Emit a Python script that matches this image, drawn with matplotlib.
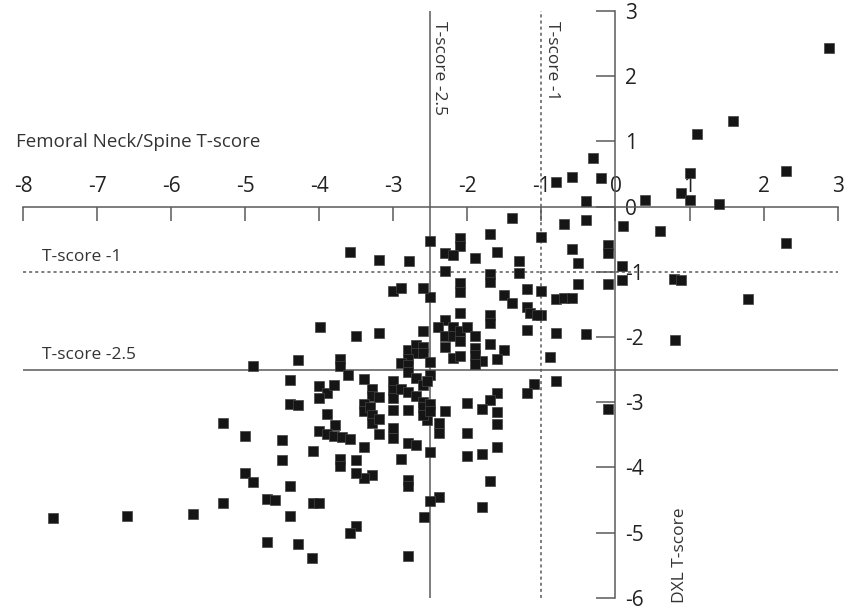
import matplotlib
matplotlib.use("Agg")
import matplotlib.pyplot as plt

plt.rcParams['font.family'] = ['Open Sans', 'DejaVu Sans']
plt.rcParams['axes.unicode_minus'] = False

# Femoral neck / spine T-score (x) vs DXL T-score (y)
fn_t = [2.89, 1.59, 1.10, 1.00, 2.30, -0.20, 0.40, 0.89, 1.00, 1.40,
        0.10, 0.60, 2.30, -0.10, -0.10, 0.09, 0.09, -0.10, 0.79, 0.89,
        1.79, 0.80, -0.10, -0.31, -0.80, -0.59, -0.40, -0.70, -0.40, -1.00,
        -0.59, -0.50, -0.50, -1.00, -0.80, -0.70, -0.59, -1.00, -0.80, -0.40,
        -0.89, -0.80, -1.40, -1.70, -1.60, -1.30, -1.70, -1.70, -1.30, -1.20,
        -1.51, -1.40, -1.20, -1.15, -1.06, -1.70, -1.70, -1.20, -1.70, -1.50,
        -1.60, -1.80, -1.10, -1.20, -1.60, -1.70, -1.80, -1.60, -1.60, -1.60,
        -1.80, -1.70, -1.80, -2.10, -2.10, -2.30, -2.20, -1.90, -2.30, -2.10,
        -2.10, -2.10, -2.30, -2.40, -2.20, -2.30, -2.20, -2.10, -2.10, -2.00,
        -1.90, -2.30, -2.20, -2.10, -1.90, -1.90, -1.90, -2.00, -2.30, -2.39,
        -2.39, -2.00, -2.00, -2.39, -2.50, -2.50, -2.59, -2.55, -2.50, -2.79,
        -2.50, -2.60, -2.60, -2.80, -2.69, -2.60, -2.69, -2.80, -2.60, -2.50,
        -2.90, -2.80, -2.80, -2.50, -2.69, -2.60, -2.55, -3.00, -3.00, -3.00,
        -2.90, -2.80, -2.69, -2.60, -3.00, -2.80, -2.60, -2.60, -2.50, -2.50,
        -3.00, -3.00, -2.80, -2.69, -2.90, -2.80, -2.80, -2.80, -3.00, -2.90,
        -3.19, -3.19, -3.40, -3.29, -3.29, -3.19, -3.40, -3.40, -3.32, -3.29,
        -3.29, -3.19, -3.19, -3.40, -3.29, -3.40, -3.50, -3.50, -3.50, -3.50,
        -3.59, -3.59, -3.99, -3.72, -3.72, -3.61, -4.29, -4.00, -3.90, -3.80,
        -4.00, -3.89, -3.79, -4.00, -3.90, -3.80, -3.70, -3.59, -3.72, -3.72,
        -4.09, -4.09, -4.00, -4.10, -4.40, -4.40, -4.29, -4.50, -4.50, -4.40,
        -4.40, -4.29, -4.71, -4.71, -4.60, -5.00, -4.89, -5.00, -5.30, -5.30,
        -5.70, -6.60, -7.59, -4.89]
dxl_t = [2.44, 1.32, 1.12, 0.51, 0.54, 0.44, 0.10, 0.21, 0.10, 0.04,
         -0.29, -0.37, -0.56, -0.59, -0.71, -0.91, -1.12, -1.19, -1.11, -1.12,
         -1.42, -2.05, -3.10, 0.75, 0.38, 0.45, 0.08, -0.27, -0.20, -0.46,
         -0.65, -0.87, -1.19, -1.29, -1.42, -1.40, -1.40, -1.66, -1.93, -1.95,
         -2.31, -2.67, -0.18, -0.42, -0.69, -0.83, -1.03, -1.15, -1.01, -1.26,
         -1.36, -1.48, -1.54, -1.63, -1.66, -1.66, -1.78, -1.89, -2.11, -2.20,
         -2.33, -2.37, -2.72, -2.85, -2.86, -2.96, -3.11, -3.15, -3.34, -3.69,
         -3.80, -4.21, -4.60, -0.48, -0.60, -0.71, -0.74, -0.78, -0.99, -1.17,
         -1.31, -1.63, -1.74, -1.84, -1.84, -1.98, -1.99, -1.90, -2.06, -1.84,
         -1.98, -2.15, -2.32, -2.29, -2.16, -2.27, -2.41, -3.01, -3.14, -3.32,
         -3.47, -3.47, -3.82, -4.45, -4.52, -3.77, -4.76, -3.27, -0.53, -0.84,
         -1.39, -1.24, -1.90, -2.20, -2.12, -2.15, -2.25, -2.33, -2.25, -2.38,
         -2.39, -2.43, -2.53, -2.58, -2.63, -2.73, -2.67, -2.68, -2.81, -2.94,
         -2.79, -2.84, -2.91, -2.99, -3.12, -3.12, -3.07, -3.19, -3.02, -3.14,
         -3.40, -3.54, -3.63, -3.65, -3.87, -4.19, -4.28, -5.35, -1.29, -1.24,
         -0.81, -1.93, -2.65, -2.79, -2.90, -2.92, -3.02, -3.14, -3.07, -3.19,
         -3.32, -3.25, -3.48, -3.69, -4.12, -4.16, -4.09, -3.89, -1.99, -4.90,
         -5.01, -0.69, -1.85, -2.33, -2.45, -2.58, -2.35, -2.75, -2.86, -2.73,
         -2.94, -3.18, -3.35, -3.44, -3.49, -3.52, -3.53, -3.56, -3.87, -3.98,
         -3.75, -4.54, -4.54, -5.39, -2.66, -3.02, -3.04, -3.58, -3.88, -4.28,
         -4.75, -5.17, -5.15, -4.48, -4.50, -4.09, -4.22, -3.52, -3.32, -4.54,
         -4.72, -4.75, -4.77, -2.44]

x_ticks = [-8, -7, -6, -5, -4, -3, -2, -1, 0, 1, 2, 3]
y_ticks = [3, 2, 1, 0, -1, -2, -3, -4, -5, -6]
cutoffs = [-1, -2.5]

fig = plt.figure(figsize=(8.54, 6.14), dpi=100)
ax = fig.add_axes([0, 0, 1, 1])
ax.set_xlim(-8.312, 3.221)
ax.set_ylim(-6.247, 3.170)

axis_col = "#5a5a5a"
for side in ["left", "bottom"]:
    ax.spines[side].set_visible(False)
ax.spines["top"].set_position(("data", 0))
ax.spines["top"].set_bounds(-8, 3)
ax.spines["right"].set_position(("data", 0))
ax.spines["right"].set_bounds(-6, 3)
for side in ["top", "right"]:
    ax.spines[side].set_color(axis_col)
    ax.spines[side].set_linewidth(1.1)

ax.xaxis.set_ticks_position("top")
ax.yaxis.set_ticks_position("right")
ax.set_xticks(x_ticks)
ax.set_xticklabels([str(t) for t in x_ticks])
ax.set_yticks(y_ticks)
ax.set_yticklabels([str(t) for t in y_ticks])
ax.tick_params(axis="x", direction="in", length=10, width=1.1, pad=7,
               labelsize=15, colors="#222222")
ax.tick_params(axis="y", direction="in", length=14, width=1.1, pad=7,
               labelsize=15, colors="#222222")
ax.tick_params(color=axis_col)

# cut-off lines
styles = {-1: (0, (2, 2)), -2.5: "-"}
for c in cutoffs:
    ax.hlines(c, -8, 3, colors=axis_col, linestyles=styles[c], linewidth=1.1)
    ax.vlines(c, -6, 3, colors=axis_col, linestyles=styles[c], linewidth=1.1)

ax.text(-7.75, -1 + 0.1, "T-score -1", fontsize=12.5, color="#333333",
        ha="left", va="bottom")
ax.text(-7.75, -2.5 + 0.1, "T-score -2.5", fontsize=12.5, color="#333333",
        ha="left", va="bottom")
ax.text(-2.5 + 0.12, 2.85, "T-score -2.5", fontsize=12.5, color="#333333",
        rotation=270, ha="center", va="top")
ax.text(-1 + 0.14, 2.85, "T-score -1", fontsize=12.5, color="#333333",
        rotation=270, ha="center", va="top")

ax.text(-8.1, 0.85, "Femoral Neck/Spine T-score", fontsize=13.5,
        color="#333333", ha="left", va="bottom")
ax.text(0.87, -5.35, "DXL T-score", fontsize=12.5, color="#333333",
        rotation=90, ha="center", va="center")

ax.scatter(fn_t, dxl_t, marker="s", s=48, color="#151515",
           edgecolors="#444444", linewidths=0.5, zorder=3)

fig.savefig("out.png", dpi=100)
plt.close(fig)
